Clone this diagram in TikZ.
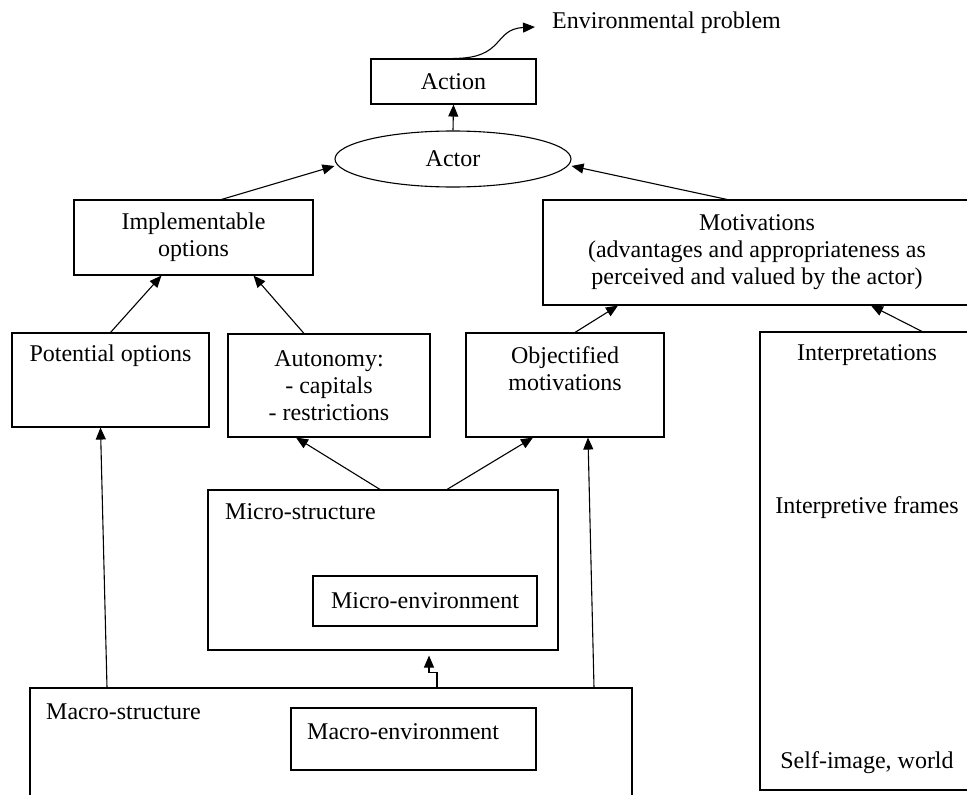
\documentclass[tikz,border=0pt]{standalone}
\usepackage{fontspec}
\setmainfont{Liberation Serif}
\usetikzlibrary{positioning,arrows.meta,shapes.geometric}
\tikzset{
  box/.style     = {rectangle, draw, line width=1.1pt, inner sep=0pt, align=center},
  oval/.style    = {ellipse, draw, line width=1.1pt, inner sep=0pt},
  txt/.style     = {inner sep=0pt, align=center},
  dims/.style 2 args = {minimum width=#1pt, minimum height=#2pt},
  link/.style    = {-{Triangle[length=12pt, width=10pt]}, line width=1.1pt},
}

\begin{document}
\begin{tikzpicture}[x=1pt, y=-1pt, font=\fontsize{24}{27}\selectfont]
  \useasboundingbox (0,0) rectangle (967,795);
  \clip (0,0) rectangle (967,795);

  %% ---- top: action, actor and what feeds the actor -----------------------------
  \node[txt, anchor=west] (envprob) at (552,23) {Environmental problem};
  \coordinate (envtip) at (535,27);
  \node[box, dims={165}{45}] (action) at (453.5,81.5) {Action};
  \node[oval, dims={236}{56}] (actor) at (453,159) {Actor};
  \node[box, dims={239}{75}] (impl) at (193.5,237.5) {Implementable\\options};
  \node[box, dims={428}{105}] (motiv) at (757,252.5)
    {Motivations\\(advantages and appropriateness as\\perceived and valued by the actor)};

  %% ---- middle row --------------------------------------------------------------
  \node[box, dims={197}{94}] (potential) at (110.5,380) {};
  \node[txt] (potentialtxt) at (110.5,356) {Potential options};
  \node[box, dims={202}{103}] (autonomy) at (329,385.5) {Autonomy:\\- capitals\\- restrictions};
  \node[box, dims={198}{104}] (objectified) at (565,385) {};
  \node[txt] (objectifiedtxt) at (565,369) {Objectified\\motivations};

  % the interpretive column on the right
  \node[box, dims={214}{458}] (interp) at (867,561) {};
  \node[txt] (interptxt) at (867,355) {Interpretations};
  \node[txt] (frames) at (867,508) {Interpretive frames};
  \node[txt] (selfimage) at (867,763) {Self-image, world};

  %% ---- structures ----------------------------------------------------------------
  \node[box, dims={350}{160}] (micro) at (383,570) {};
  \node[txt, anchor=west] (microtxt) at (225,512) {Micro-structure};
  \node[box, dims={224}{50}] (microenv) at (425,601) {Micro-environment};
  \node[box, dims={602}{142}] (macro) at (331,759) {};
  \node[txt, anchor=west] (macrotxt) at (46,712) {Macro-structure};
  \node[box, dims={245}{62}] (macroenv) at (413.5,739) {};
  \node[txt, anchor=west] (macroenvtxt) at (307,732) {Macro-environment};

  %% ---- arrows ------------------------------------------------------------------
  \draw[link] (action.north) .. controls +(52,0) and +(-42,2) .. (envtip);
  \draw[link] (actor.north) -- (action.south);
  \draw[link] ([xshift=28pt]impl.north) -- ([yshift=-7pt]actor.west);
  \draw[link] ([xshift=-30pt]motiv.north) -- ([yshift=-7pt]actor.east);
  \draw[link] (potential.north) -- ([xshift=-32pt]impl.south);
  \draw[link] ([xshift=-25pt]autonomy.north) -- ([xshift=60pt]impl.south);
  \draw[link] ([xshift=10pt]objectified.north) -- ([xshift=-139pt]motiv.south);
  \draw[link] ([xshift=55pt]interp.north) -- ([xshift=114pt]motiv.south);
  \draw[link] ([xshift=-3pt]micro.north) -- ([xshift=-33pt]autonomy.south);
  \draw[link] ([xshift=64pt]micro.north) -- ([xshift=-32pt]objectified.south);
  \draw[link] ([xshift=-224pt]macro.north) -- ([xshift=-10pt]potential.south);
  \draw[link] ([xshift=263pt]macro.north) -- ([xshift=23pt]objectified.south);
  \draw[link] ([xshift=106pt]macro.north) -- ++(0,-15) -- ++(-8,0) -- ([xshift=46pt,yshift=-5pt]micro.south);
\end{tikzpicture}
\end{document}
